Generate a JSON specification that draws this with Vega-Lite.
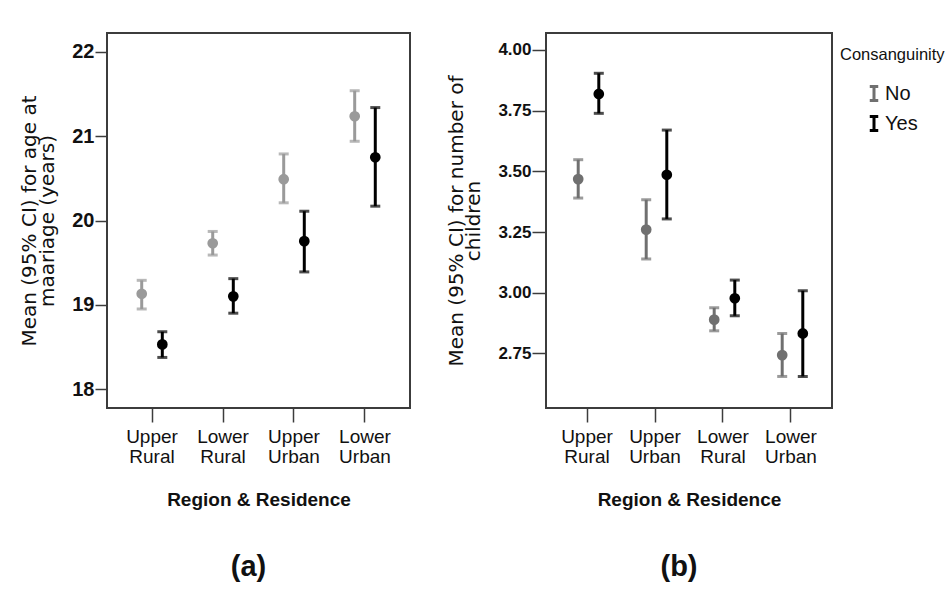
{
  "$schema": "https://vega.github.io/schema/vega-lite/v6.json",
  "background": "white",
  "padding": {"left": 18, "top": 32, "right": 0, "bottom": 0},
  "datasets": {
    "a": [
      {"region": "Upper Rural", "cons": "No", "mean": 19.13, "lo": 18.95, "hi": 19.29},
      {"region": "Upper Rural", "cons": "Yes", "mean": 18.53, "lo": 18.375, "hi": 18.68},
      {"region": "Lower Rural", "cons": "No", "mean": 19.73, "lo": 19.59, "hi": 19.87},
      {"region": "Lower Rural", "cons": "Yes", "mean": 19.10, "lo": 18.90, "hi": 19.31},
      {"region": "Upper Urban", "cons": "No", "mean": 20.49, "lo": 20.21, "hi": 20.79},
      {"region": "Upper Urban", "cons": "Yes", "mean": 19.755, "lo": 19.39, "hi": 20.11},
      {"region": "Lower Urban", "cons": "No", "mean": 21.237, "lo": 20.94, "hi": 21.54},
      {"region": "Lower Urban", "cons": "Yes", "mean": 20.75, "lo": 20.17, "hi": 21.34}
    ],
    "b": [
      {"region": "Upper Rural", "cons": "No", "mean": 3.468, "lo": 3.39, "hi": 3.548},
      {"region": "Upper Rural", "cons": "Yes", "mean": 3.819, "lo": 3.739, "hi": 3.904},
      {"region": "Upper Urban", "cons": "No", "mean": 3.26, "lo": 3.139, "hi": 3.383},
      {"region": "Upper Urban", "cons": "Yes", "mean": 3.486, "lo": 3.304, "hi": 3.67},
      {"region": "Lower Rural", "cons": "No", "mean": 2.889, "lo": 2.843, "hi": 2.938},
      {"region": "Lower Rural", "cons": "Yes", "mean": 2.977, "lo": 2.905, "hi": 3.052},
      {"region": "Lower Urban", "cons": "No", "mean": 2.743, "lo": 2.655, "hi": 2.832},
      {"region": "Lower Urban", "cons": "Yes", "mean": 2.832, "lo": 2.655, "hi": 3.008}
    ]
  },
  "spacing": 34,
  "resolve": {"scale": {"color": "independent"}},
  "hconcat": [
    {
      "width": 303,
      "height": 375,
      "data": {"name": "a"},
      "title": {"text": "(a)", "orient": "bottom", "fontSize": 29, "fontWeight": "bold", "offset": 44, "frame": "group", "dx": -10, "color": "#111", "font": "Liberation Sans"},
      "encoding": {
        "x": {
          "field": "region", "type": "nominal",
          "sort": ["Upper Rural", "Lower Rural", "Upper Urban", "Lower Urban"],
          "scale": {"paddingInner": 0, "paddingOuter": 0.134},
          "axis": {"title": "Region & Residence", "labelAngle": 0, "labelExpr": "split(datum.label, ' ')", "labelFontSize": 19, "labelLineHeight": 20, "labelFontWeight": "normal", "tickSize": 14, "labelPadding": 5, "titleFontSize": 19, "titleFontWeight": "bold", "titlePadding": 24}
        },
        "xOffset": {"field": "cons", "type": "nominal", "sort": ["No", "Yes"], "scale": {"paddingInner": 0, "paddingOuter": 0.724}}
      },
      "layer": [
        {
          "mark": {"type": "rule", "strokeWidth": 3},
          "encoding": {
            "y": {"field": "lo", "type": "quantitative", "scale": {"domain": [17.775, 22.225], "nice": false, "zero": false},
              "axis": {"title": ["Mean (95% CI) for age at", "maariage (years)"], "values": [18, 19, 20, 21, 22], "format": "d", "tickSize": 12, "labelPadding": 1, "labelFontSize": 20, "labelFontWeight": "bold", "titleFont": "DejaVu Sans", "titleFontSize": 20, "titleFontWeight": "normal", "titleLineHeight": 18, "titlePadding": 14}},
            "y2": {"field": "hi"},
            "color": {"field": "cons", "type": "nominal", "scale": {"domain": ["No", "Yes"], "range": ["#9a9a9a", "#000000"]}, "legend": null}
          }
        },
        {
          "mark": {"type": "tick", "thickness": 3, "size": 10},
          "encoding": {
            "y": {"field": "lo", "type": "quantitative"},
            "color": {"field": "cons", "type": "nominal", "legend": null}
          }
        },
        {
          "mark": {"type": "tick", "thickness": 3, "size": 10},
          "encoding": {
            "y": {"field": "hi", "type": "quantitative"},
            "color": {"field": "cons", "type": "nominal", "legend": null}
          }
        },
        {
          "mark": {"type": "point", "filled": true, "size": 115, "opacity": 1},
          "encoding": {
            "y": {"field": "mean", "type": "quantitative"},
            "color": {"field": "cons", "type": "nominal", "legend": null}
          }
        }
      ]
    },
    {
      "width": 286,
      "height": 375,
      "data": {"name": "b"},
      "title": {"text": "(b)", "orient": "bottom", "fontSize": 29, "fontWeight": "bold", "offset": 44, "frame": "group", "dx": -10, "color": "#111", "font": "Liberation Sans"},
      "encoding": {
        "x": {
          "field": "region", "type": "nominal",
          "sort": ["Upper Rural", "Upper Urban", "Lower Rural", "Lower Urban"],
          "scale": {"paddingInner": 0, "paddingOuter": 0.103},
          "axis": {"title": "Region & Residence", "labelAngle": 0, "labelExpr": "split(datum.label, ' ')", "labelFontSize": 19, "labelLineHeight": 20, "labelFontWeight": "normal", "tickSize": 14, "labelPadding": 5, "titleFontSize": 19, "titleFontWeight": "bold", "titlePadding": 24}
        },
        "xOffset": {"field": "cons", "type": "nominal", "sort": ["No", "Yes"], "scale": {"paddingInner": 0, "paddingOuter": 0.714}},
        "color": {"field": "cons", "type": "nominal", "scale": {"domain": ["No", "Yes"], "range": ["#707070", "#000000"]},
          "legend": {"title": "Consanguinity", "orient": "right", "offset": -6, "padding": 14, "titleFontSize": 16.5, "titleFontWeight": "normal", "titlePadding": 20, "labelFontSize": 20, "symbolType": "M-0.6,-1H0.6M0,-1V1M-0.6,1H0.6", "symbolSize": 200, "symbolStrokeWidth": 3, "symbolOpacity": 1, "symbolOffset": 24, "labelOffset": 1, "rowPadding": 2, "titleColor": "#111", "labelColor": "#111"}}
      },
      "layer": [
        {
          "mark": {"type": "rule", "strokeWidth": 3},
          "encoding": {
            "y": {"field": "lo", "type": "quantitative", "scale": {"domain": [2.525, 4.07], "nice": false, "zero": false},
              "axis": {"title": ["Mean (95% CI) for number of", "children"], "values": [2.75, 3.0, 3.25, 3.5, 3.75, 4.0], "format": ".2f", "tickSize": 14, "labelPadding": 1, "labelFontSize": 17, "labelFontWeight": "bold", "titleFont": "DejaVu Sans", "titleFontSize": 20, "titleFontWeight": "normal", "titleLineHeight": 17, "titlePadding": 14}},
            "y2": {"field": "hi"}
          }
        },
        {
          "mark": {"type": "tick", "thickness": 3, "size": 10},
          "encoding": {
            "y": {"field": "lo", "type": "quantitative"}
          }
        },
        {
          "mark": {"type": "tick", "thickness": 3, "size": 10},
          "encoding": {
            "y": {"field": "hi", "type": "quantitative"}
          }
        },
        {
          "mark": {"type": "point", "filled": true, "size": 115, "opacity": 1},
          "encoding": {
            "y": {"field": "mean", "type": "quantitative"}
          }
        }
      ]
    }
  ],
  "config": {
    "font": "Liberation Sans",
    "view": {"stroke": "#3c3c3c", "strokeWidth": 2},
    "axis": {"domain": false, "grid": false, "tickColor": "#3c3c3c", "tickWidth": 1.5, "labelColor": "#111", "titleColor": "#111", "labelFont": "Liberation Sans", "titleFont": "Liberation Sans"},
    "legend": {"labelFont": "Liberation Sans", "titleFont": "Liberation Sans"}
  }
}
